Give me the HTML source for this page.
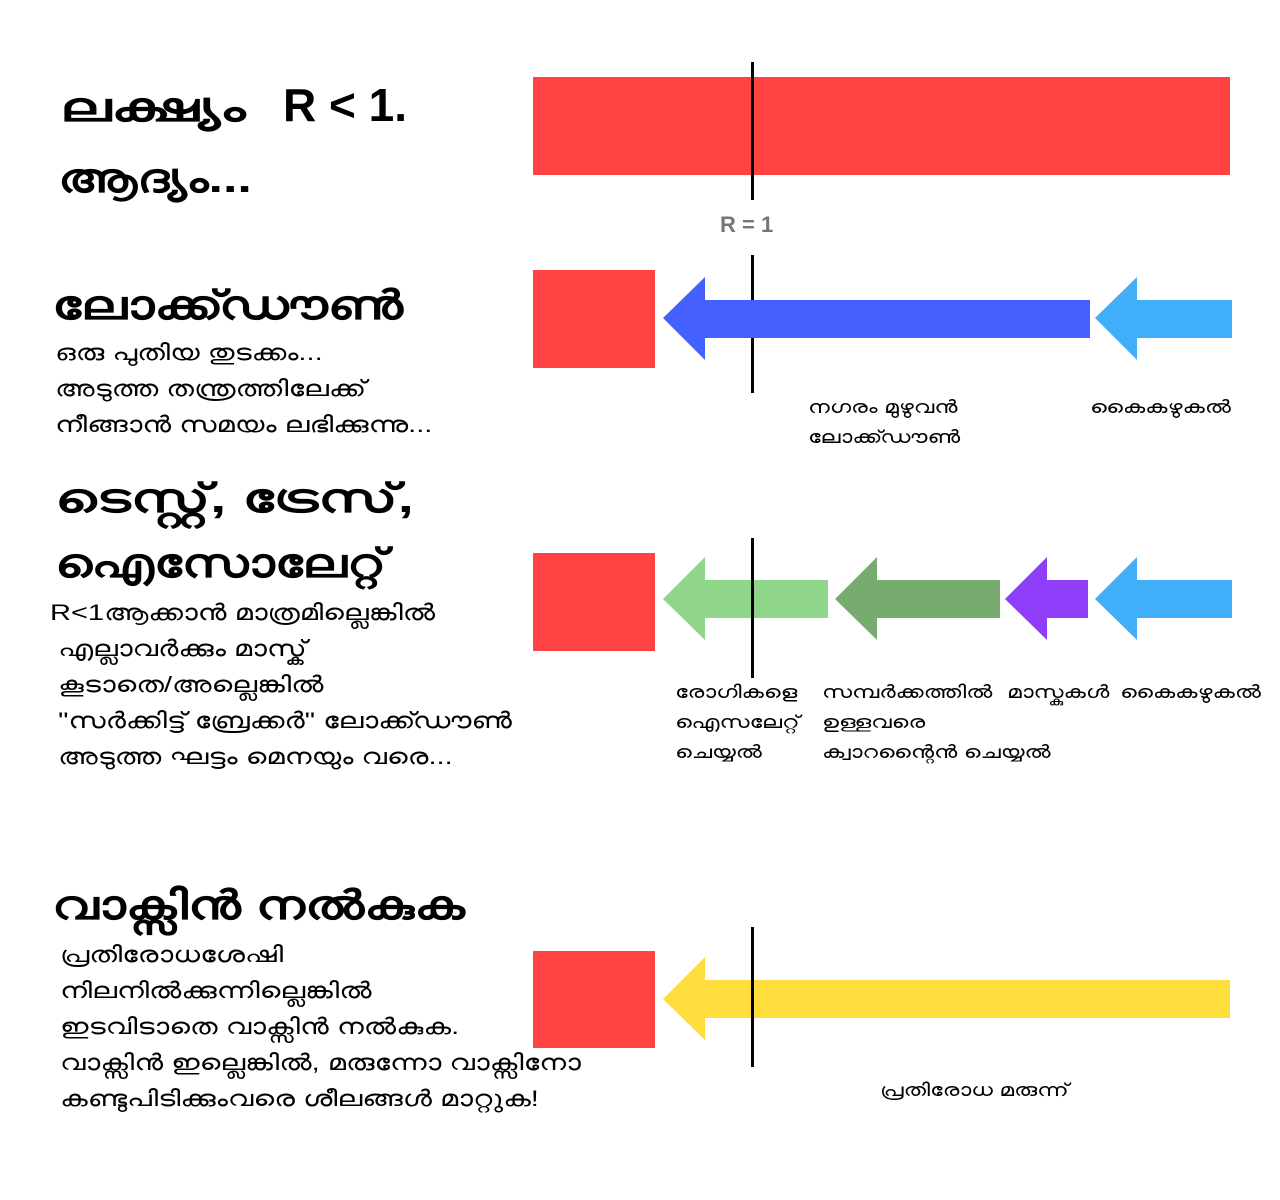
<!DOCTYPE html>
<html><head><meta charset="utf-8">
<style>
html,body{margin:0;padding:0;background:#fff;}
body{width:1280px;height:1200px;position:relative;overflow:hidden;font-family:"Liberation Sans","DejaVu Sans",sans-serif;color:#000;}
.a{position:absolute;white-space:nowrap;transform-origin:0 0;}
.h{font-weight:bold;font-size:40px;line-height:48px;}
.t{font-size:22px;line-height:36px;transform:scaleX(1.32);}
.s{font-size:18px;line-height:30px;transform:scaleX(1.3);}
.r{position:absolute;background:#ff4343;}
.v{position:absolute;width:3px;background:#000;left:751px;}
</style></head><body>
<div class="a h" style="left:60px;top:84px;transform:scaleX(1.5);">ലക്ഷ്യം</div>
<div class="a" style="left:283px;top:78px;font-weight:bold;font-size:46px;">R &lt; 1.</div>
<div class="a h" style="left:58px;top:155px;transform:scaleX(1.3);">ആദ്യം...</div>
<div class="r" style="left:533px;top:77px;width:697px;height:98px;"></div>
<div class="v" style="top:62px;height:138px;"></div>
<div class="a" style="left:720px;top:212px;font-weight:bold;font-size:22px;color:#777;">R = 1</div>

<div class="a h" style="left:52px;top:282px;transform:scaleX(1.35);">ലോക്ക്ഡൗൺ</div>
<div class="a t" style="left:55px;top:335px;">ഒരു പുതിയ തുടക്കം...<br>അടുത്ത തന്ത്രത്തിലേക്ക്<br>നീങ്ങാൻ സമയം ലഭിക്കുന്നു...</div>
<div class="r" style="left:533px;top:270px;width:122px;height:98px;"></div>
<div class="v" style="top:255px;height:138px;"></div>
<svg class="a" style="left:0;top:0;" width="1280" height="1200">
<polygon points="663,318 705,277 705,300 1090,300 1090,338 705,338 705,360" fill="#4460ff"/>
<polygon points="1095,318 1137,277 1137,300 1232,300 1232,338 1137,338 1137,360" fill="#40aef8"/>
<polygon points="663,599 705,557 705,580 828,580 828,618 705,618 705,640" fill="#8fd68a"/>
<polygon points="835,599 877,557 877,580 1000,580 1000,618 877,618 877,640" fill="#76ad6e"/>
<polygon points="1005,599 1047,557 1047,580 1088,580 1088,618 1047,618 1047,640" fill="#8e3ef8"/>
<polygon points="1095,599 1137,557 1137,580 1232,580 1232,618 1137,618 1137,640" fill="#40aef8"/>
<polygon points="663,999 705,957 705,980 1230,980 1230,1018 705,1018 705,1040" fill="#ffdd3c"/>
</svg>
<div class="a s" style="left:808px;top:392px;">നഗരം മുഴുവൻ<br>ലോക്ക്ഡൗൺ</div>
<div class="a s" style="left:1090px;top:392px;">കൈകഴുകൽ</div>

<div class="a h" style="left:55px;top:475px;transform:scaleX(1.45);">ടെസ്റ്റ്, ട്രേസ്,</div>
<div class="a h" style="left:55px;top:540px;transform:scaleX(1.3);">ഐസോലേറ്റ്</div>
<div class="a t" style="left:50px;top:595px;">R&lt;1ആക്കാൻ മാത്രമില്ലെങ്കിൽ<br>&nbsp;എല്ലാവർക്കും മാസ്ക്<br>&nbsp;കൂടാതെ/അല്ലെങ്കിൽ<br>&nbsp;"സർക്കിട്ട് ബ്രേക്കർ" ലോക്ക്ഡൗൺ<br>&nbsp;അടുത്ത ഘട്ടം മെനയും വരെ...</div>
<div class="r" style="left:533px;top:553px;width:122px;height:98px;"></div>
<div class="v" style="top:538px;height:140px;"></div>
<div class="a s" style="left:675px;top:677px;">രോഗികളെ<br>ഐസലേറ്റ്<br>ചെയ്യൽ</div>
<div class="a s" style="left:822px;top:677px;">സമ്പർക്കത്തിൽ<br>ഉള്ളവരെ<br>ക്വാറന്റൈൻ ചെയ്യൽ</div>
<div class="a s" style="left:1007px;top:677px;">മാസ്കുകൾ</div>
<div class="a s" style="left:1120px;top:677px;">കൈകഴുകൽ</div>

<div class="a h" style="left:52px;top:882px;transform:scaleX(1.33);">വാക്സിൻ നൽകുക</div>
<div class="a t" style="left:60px;top:937px;">പ്രതിരോധശേഷി<br>നിലനിൽക്കുന്നില്ലെങ്കിൽ<br>ഇടവിടാതെ വാക്സിൻ നൽകുക.<br>വാക്സിൻ ഇല്ലെങ്കിൽ, മരുന്നോ വാക്സിനോ<br>കണ്ടുപിടിക്കുംവരെ ശീലങ്ങൾ മാറ്റുക!</div>
<div class="r" style="left:533px;top:951px;width:122px;height:97px;"></div>
<div class="v" style="top:927px;height:140px;"></div>
<div class="a s" style="left:880px;top:1075px;">പ്രതിരോധ മരുന്ന്</div>
</body></html>
